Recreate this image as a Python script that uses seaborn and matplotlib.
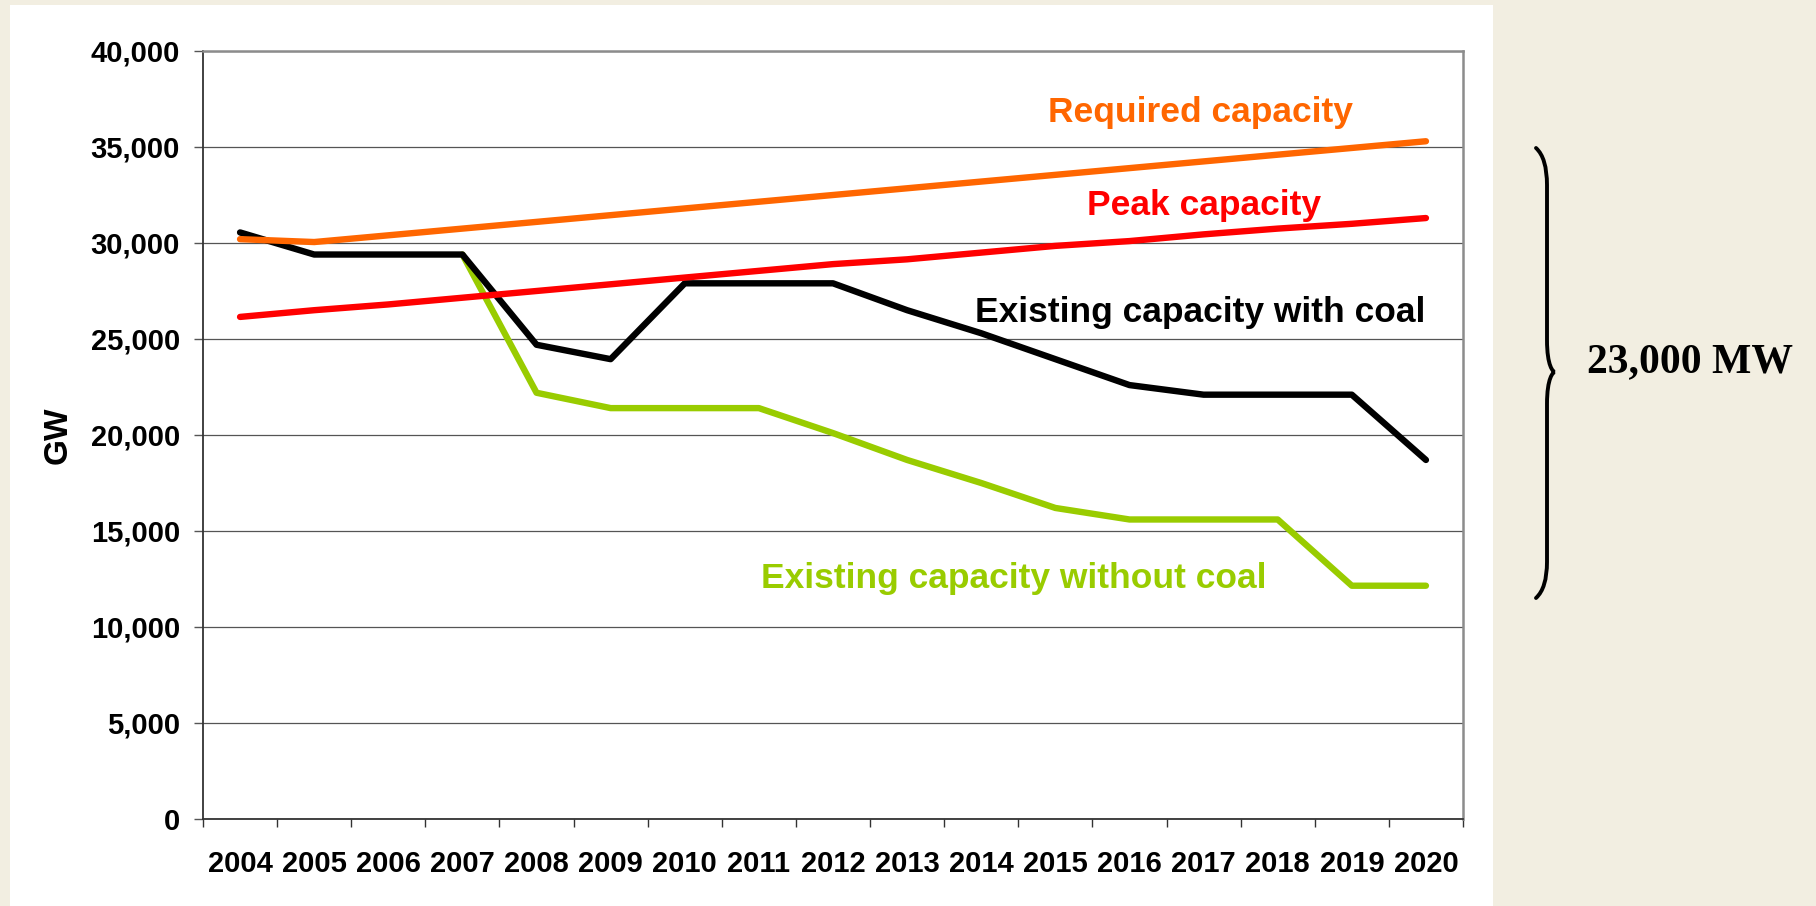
import numpy as np
import pandas as pd
import matplotlib
matplotlib.use("Agg")
import matplotlib.pyplot as plt
from matplotlib.path import Path
from matplotlib.patches import PathPatch, Rectangle
import seaborn as sns

years = [str(y) for y in range(2004, 2021)]

required = [30200, 30050, 30400, 30750, 31100, 31450, 31800, 32150, 32500,
            32850, 33200, 33550, 33900, 34250, 34600, 34950, 35300]
peak = [26150, 26500, 26800, 27150, 27500, 27850, 28200, 28550, 28900,
        29150, 29500, 29850, 30100, 30450, 30750, 31000, 31300]
with_coal = [30550, 29400, 29400, 29400, 24700, 23950, 27900, 27900, 27900,
             26500, 25300, 23950, 22600, 22100, 22100, 22100, 18700]
without_coal = [np.nan, np.nan, np.nan, 29400, 22200, 21400, 21400, 21400, 20100,
                18700, 17500, 16200, 15600, 15600, 15600, 12150, 12150]

series_names = ["Existing capacity without coal", "Existing capacity with coal",
                "Peak capacity", "Required capacity"]
series_colors = ["#99CC00", "#000000", "#FF0000", "#FF6600"]

yticks = [0, 5000, 10000, 15000, 20000, 25000, 30000, 35000, 40000]
ytick_labels = ["0", "5,000", "10,000", "15,000", "20,000", "25,000",
                "30,000", "35,000", "40,000"]

# long-form table for seaborn
pos = np.arange(len(years))
df = pd.concat([
    pd.DataFrame({"pos": pos, "value": vals, "series": name})
    for name, vals in zip(series_names, [without_coal, with_coal, peak, required])
], ignore_index=True)

sns.set_style("white")
plt.rcParams["font.family"] = ["Liberation Sans", "DejaVu Sans"]
plt.rcParams["lines.solid_capstyle"] = "round"
plt.rcParams["lines.solid_joinstyle"] = "round"
for k in ["text.color", "axes.labelcolor", "xtick.color", "ytick.color"]:
    plt.rcParams[k] = "black"

W, H = 1816, 906
fig = plt.figure(figsize=(W / 100, H / 100), dpi=100)
fig.patch.set_facecolor("#F2EEE1")

# white slide panel
fig.patches.append(Rectangle((10 / W, 0), (1493 - 10) / W, 1 - 5 / H,
                             transform=fig.transFigure, facecolor="white",
                             edgecolor="none", zorder=-5))

ax = fig.add_axes([203 / W, 1 - 819 / H, 1260 / W, 768 / H])
ax.set_facecolor("white")

sns.lineplot(data=df, x="pos", y="value", hue="series", hue_order=series_names,
             palette=series_colors, linewidth=4.6, legend=False, ax=ax,
             sort=False)

ax.set_xlim(-0.5, len(years) - 0.5)
ax.set_ylim(0, 40000)
ax.set_yticks(yticks)
ax.set_yticklabels(ytick_labels, fontsize=21, fontweight="bold")
ax.yaxis.grid(True, color="#555555", linewidth=0.9)
ax.set_axisbelow(True)

# category axis: tick marks between years, labels at centers
ax.set_xticks(np.arange(-0.5, len(years), 1.0))
ax.set_xticklabels([])
ax.set_xticks(pos, minor=True)
ax.set_xticklabels(years, minor=True, fontsize=21, fontweight="bold")
ax.tick_params(axis="x", which="major", direction="out", length=6, width=1,
               color="#333333", bottom=True)
ax.tick_params(axis="x", which="minor", length=0, pad=22)
ax.tick_params(axis="y", direction="out", length=6.5, width=1,
               color="#555555", left=True, pad=10)

for side in ["left", "bottom"]:
    ax.spines[side].set_color("#333333")
    ax.spines[side].set_linewidth(1.3)
for side in ["top", "right"]:
    ax.spines[side].set_visible(True)
    ax.spines[side].set_color("#8C8C8C")
    ax.spines[side].set_linewidth(1.8)

ax.set_xlabel("")
ax.set_ylabel("GW", fontsize=24, fontweight="bold")
ax.yaxis.set_label_coords(-0.103, 0.5)

# series labels
ax.text(12.96, 36780, "Required capacity", color="#FF6600", fontsize=25.5,
        fontweight="bold", ha="center", va="center")
ax.text(13.0, 31930, "Peak capacity", color="#FF0000", fontsize=25.5,
        fontweight="bold", ha="center", va="center")
ax.text(12.96, 26360, "Existing capacity with coal", color="#000000", fontsize=25.5,
        fontweight="bold", ha="center", va="center")
ax.text(10.44, 12510, "Existing capacity without coal", color="#99CC00", fontsize=25.5,
        fontweight="bold", ha="center", va="center")

# curly brace on the right
def px(x, y):
    return (x / W, 1 - y / H)

verts = [px(1536, 148), px(1547, 158), px(1547, 185),
         px(1547, 340),
         px(1547, 366), px(1553, 372), px(1555, 372),
         px(1553, 372), px(1547, 378), px(1547, 404),
         px(1547, 562),
         px(1547, 588), px(1536, 598)]
codes = [Path.MOVETO, Path.CURVE3, Path.CURVE3,
         Path.LINETO,
         Path.CURVE4, Path.CURVE4, Path.CURVE4,
         Path.CURVE4, Path.CURVE4, Path.CURVE4,
         Path.LINETO,
         Path.CURVE3, Path.CURVE3]
fig.patches.append(PathPatch(Path(verts, codes), transform=fig.transFigure,
                             facecolor="none", edgecolor="black", linewidth=2.8,
                             capstyle="round"))

fig.text(1690 / W, 1 - 362 / H, "23,000 MW", fontsize=30, fontweight="bold",
         color="black", family=["Liberation Serif", "DejaVu Serif"],
         ha="center", va="center")

fig.savefig("out.png", dpi=100, facecolor=fig.get_facecolor())
